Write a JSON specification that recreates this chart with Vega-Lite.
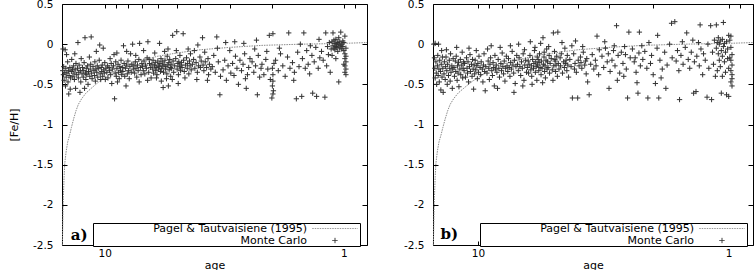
{
"$schema": "https://vega.github.io/schema/vega-lite/v6.json",
"background": "white",
"padding": {"left": 8, "top": -2, "right": 0, "bottom": 0},
"spacing": 33,
"config": {
  "font": "DejaVu Sans",
  "view": {"stroke": "black", "strokeWidth": 1},
  "axis": {"grid": false, "domain": false, "tickColor": "black", "tickWidth": 1, "labelColor": "black", "labelFont": "DejaVu Sans", "labelFontSize": 10.5, "titleFont": "DejaVu Sans", "titleFontSize": 11, "titleFontWeight": "normal", "titleColor": "black", "labelFlush": false, "labelOverlap": false}
},
"resolve": {"scale": {"x": "independent", "y": "independent", "shape": "independent"}, "legend": {"shape": "independent"}},
"datasets": {
"curve": [
{"age":15.05,"feh":-2.5},{"age":15.0,"feh":-2.3},{"age":14.95,"feh":-2.05},{"age":14.9,"feh":-1.9},{"age":14.8,"feh":-1.65},{"age":14.7,"feh":-1.48},{"age":14.5,"feh":-1.33},{"age":14.3,"feh":-1.22},{"age":14.0,"feh":-1.12},{"age":13.8,"feh":-1.04},{"age":13.5,"feh":-0.93},{"age":13.2,"feh":-0.83},{"age":12.9,"feh":-0.75},{"age":12.5,"feh":-0.68},{"age":12.0,"feh":-0.61},{"age":11.5,"feh":-0.56},{"age":11.0,"feh":-0.51},{"age":10.5,"feh":-0.46},{"age":10.0,"feh":-0.42},{"age":9.5,"feh":-0.37},{"age":9.0,"feh":-0.32},{"age":8.5,"feh":-0.28},{"age":8.0,"feh":-0.25},{"age":7.0,"feh":-0.2},{"age":6.0,"feh":-0.15},{"age":5.0,"feh":-0.11},{"age":4.0,"feh":-0.07},{"age":3.0,"feh":-0.04},{"age":2.2,"feh":-0.015},{"age":1.5,"feh":0.0},{"age":1.0,"feh":0.01},{"age":0.8,"feh":0.02}
],
"mcA": [
{"age":15.0,"feh":-0.33},{"age":14.9,"feh":-0.38},{"age":14.85,"feh":-0.28},{"age":14.8,"feh":-0.45},{"age":14.7,"feh":-0.35},{"age":14.6,"feh":-0.52},{"age":14.55,"feh":-0.3},{"age":14.5,"feh":-0.41},{"age":14.4,"feh":-0.36},{"age":14.3,"feh":-0.22},{"age":14.25,"feh":-0.47},{"age":14.2,"feh":-0.33},{"age":14.1,"feh":-0.39},{"age":14.0,"feh":-0.29},{"age":13.95,"feh":-0.56},{"age":13.9,"feh":-0.42},{"age":13.8,"feh":-0.34},{"age":13.75,"feh":-0.19},{"age":14.95,"feh":-0.06},{"age":14.45,"feh":-0.13},{"age":14.15,"feh":-0.62},{"age":14.65,"feh":-0.07},
{"age":13.65,"feh":-0.31},{"age":13.6,"feh":-0.4},{"age":13.5,"feh":-0.27},{"age":13.45,"feh":-0.36},{"age":13.4,"feh":-0.44},{"age":13.3,"feh":-0.32},{"age":13.25,"feh":-0.55},{"age":13.2,"feh":-0.24},{"age":13.1,"feh":-0.38},{"age":13.0,"feh":-0.3},{"age":12.95,"feh":0.02},{"age":12.9,"feh":-0.42},{"age":12.85,"feh":-0.35},{"age":12.8,"feh":-0.26},{"age":12.7,"feh":-0.6},{"age":12.65,"feh":-0.33},{"age":12.6,"feh":-0.47},{"age":12.55,"feh":-0.18},{"age":13.35,"feh":-0.12},
{"age":12.45,"feh":-0.37},{"age":12.4,"feh":-0.29},{"age":12.3,"feh":-0.41},{"age":12.25,"feh":-0.33},{"age":12.2,"feh":-0.23},{"age":12.1,"feh":0.08},{"age":12.05,"feh":-0.36},{"age":12.0,"feh":-0.44},{"age":11.95,"feh":-0.3},{"age":11.9,"feh":-0.38},{"age":11.8,"feh":-0.27},{"age":11.75,"feh":-0.5},{"age":11.7,"feh":-0.34},{"age":11.6,"feh":-0.16},{"age":11.55,"feh":-0.4},{"age":11.5,"feh":-0.31},{"age":11.45,"feh":-0.25},{"age":11.4,"feh":0.09},{"age":12.15,"feh":-0.55},
{"age":11.35,"feh":-0.36},{"age":11.3,"feh":-0.43},{"age":11.2,"feh":-0.28},{"age":11.1,"feh":-0.33},{"age":11.05,"feh":-0.39},{"age":11.0,"feh":-0.22},{"age":10.95,"feh":-0.46},{"age":10.9,"feh":-0.31},{"age":10.8,"feh":-0.35},{"age":10.75,"feh":-0.27},{"age":10.7,"feh":-0.41},{"age":10.6,"feh":-0.3},{"age":10.55,"feh":-0.2},{"age":10.5,"feh":-0.01},{"age":10.45,"feh":-0.37},{"age":10.4,"feh":-0.44},{"age":10.35,"feh":-0.29},{"age":10.3,"feh":-0.34},{"age":10.85,"feh":-0.09},
{"age":10.25,"feh":-0.26},{"age":10.2,"feh":-0.4},{"age":10.1,"feh":-0.32},{"age":10.05,"feh":-0.36},{"age":10.0,"feh":-0.23},{"age":9.95,"feh":-0.44},{"age":9.9,"feh":-0.3},{"age":9.8,"feh":-0.35},{"age":9.75,"feh":-0.27},{"age":9.7,"feh":-0.42},{"age":9.6,"feh":-0.29},{"age":9.55,"feh":-0.33},{"age":9.5,"feh":-0.18},{"age":9.45,"feh":-0.38},{"age":9.4,"feh":-0.24},{"age":9.35,"feh":-0.49},{"age":10.15,"feh":-0.05},
{"age":9.3,"feh":-0.31},{"age":9.2,"feh":-0.27},{"age":9.1,"feh":-0.68},{"age":9.05,"feh":-0.36},{"age":9.0,"feh":-0.22},{"age":8.95,"feh":-0.4},{"age":8.9,"feh":-0.3},{"age":8.8,"feh":-0.25},{"age":8.75,"feh":-0.35},{"age":8.7,"feh":-0.43},{"age":8.65,"feh":-0.28},{"age":8.6,"feh":-0.33},{"age":8.55,"feh":-0.2},{"age":8.5,"feh":-0.38},{"age":9.15,"feh":-0.13},{"age":8.85,"feh":-0.47},{"age":8.9,"feh":-0.11},
{"age":8.45,"feh":-0.29},{"age":8.4,"feh":-0.34},{"age":8.3,"feh":-0.24},{"age":8.25,"feh":-0.4},{"age":8.2,"feh":-0.3},{"age":8.1,"feh":-0.26},{"age":8.05,"feh":-0.37},{"age":8.0,"feh":-0.21},{"age":7.95,"feh":-0.33},{"age":7.9,"feh":-0.43},{"age":7.85,"feh":-0.28},{"age":7.8,"feh":-0.12},{"age":7.75,"feh":-0.35},{"age":7.7,"feh":-0.25},{"age":8.15,"feh":-0.52},{"age":8.35,"feh":-0.02},{"age":8.1,"feh":-0.09},
{"age":7.65,"feh":0.0},{"age":7.6,"feh":-0.31},{"age":7.55,"feh":-0.27},{"age":7.5,"feh":-0.36},{"age":7.45,"feh":-0.22},{"age":7.4,"feh":-0.3},{"age":7.35,"feh":-0.41},{"age":7.3,"feh":-0.26},{"age":7.25,"feh":-0.33},{"age":7.2,"feh":-0.19},{"age":7.15,"feh":0.01},{"age":7.1,"feh":-0.29},{"age":7.05,"feh":-0.38},{"age":7.0,"feh":-0.24},{"age":7.42,"feh":-0.14},{"age":7.18,"feh":-0.47},
{"age":6.95,"feh":-0.28},{"age":6.9,"feh":-0.33},{"age":6.85,"feh":-0.21},{"age":6.8,"feh":-0.37},{"age":6.75,"feh":-0.26},{"age":6.7,"feh":-0.3},{"age":6.65,"feh":-0.17},{"age":6.6,"feh":0.03},{"age":6.55,"feh":-0.35},{"age":6.5,"feh":-0.24},{"age":6.45,"feh":-0.29},{"age":6.4,"feh":-0.42},{"age":6.88,"feh":-0.08},{"age":6.62,"feh":-0.45},{"age":6.52,"feh":-0.19},
{"age":6.35,"feh":-0.25},{"age":6.3,"feh":-0.31},{"age":6.28,"feh":-0.2},{"age":6.25,"feh":-0.36},{"age":6.2,"feh":-0.27},{"age":6.15,"feh":-0.23},{"age":6.12,"feh":-0.33},{"age":6.1,"feh":-0.29},{"age":6.05,"feh":-0.38},{"age":6.0,"feh":-0.21},{"age":5.98,"feh":-0.26},{"age":5.95,"feh":-0.31},{"age":5.9,"feh":0.01},{"age":5.88,"feh":-0.24},{"age":5.85,"feh":-0.34},{"age":5.82,"feh":-0.18},{"age":5.8,"feh":-0.46},{"age":6.18,"feh":-0.11},{"age":6.08,"feh":-0.42},{"age":5.92,"feh":-0.28},
{"age":5.78,"feh":-0.3},{"age":5.75,"feh":-0.22},{"age":5.72,"feh":-0.27},{"age":5.7,"feh":-0.54},{"age":5.68,"feh":-0.35},{"age":5.65,"feh":-0.25},{"age":5.6,"feh":-0.2},{"age":5.58,"feh":-0.31},{"age":5.55,"feh":-0.28},{"age":5.5,"feh":-0.37},{"age":5.48,"feh":-0.15},{"age":5.45,"feh":-0.26},{"age":5.42,"feh":-0.52},{"age":5.4,"feh":-0.23},{"age":5.38,"feh":-0.32},{"age":5.35,"feh":-0.19},{"age":5.32,"feh":-0.29},{"age":5.3,"feh":-0.4},{"age":5.62,"feh":-0.09},{"age":5.52,"feh":-0.43},{"age":5.44,"feh":-0.06},
{"age":5.28,"feh":-0.25},{"age":5.25,"feh":-0.3},{"age":5.2,"feh":0.11},{"age":5.18,"feh":-0.21},{"age":5.15,"feh":-0.35},{"age":5.1,"feh":-0.27},{"age":5.05,"feh":-0.18},{"age":5.0,"feh":0.155},{"age":4.98,"feh":-0.31},{"age":4.95,"feh":-0.24},{"age":4.92,"feh":-0.38},{"age":4.9,"feh":-0.22},{"age":4.88,"feh":-0.28},{"age":4.85,"feh":-0.14},{"age":4.82,"feh":-0.33},{"age":4.8,"feh":-0.26},{"age":5.22,"feh":-0.44},{"age":5.02,"feh":-0.08},{"age":4.93,"feh":-0.49},
{"age":4.78,"feh":-0.23},{"age":4.75,"feh":-0.29},{"age":4.7,"feh":0.13},{"age":4.68,"feh":-0.2},{"age":4.65,"feh":-0.34},{"age":4.6,"feh":-0.26},{"age":4.55,"feh":-0.17},{"age":4.52,"feh":-0.3},{"age":4.5,"feh":-0.24},{"age":4.45,"feh":-0.37},{"age":4.42,"feh":-0.21},{"age":4.4,"feh":-0.27},{"age":4.38,"feh":-0.12},{"age":4.35,"feh":-0.32},{"age":4.62,"feh":-0.42},{"age":4.48,"feh":-0.06},
{"age":4.3,"feh":-0.25},{"age":4.25,"feh":-0.19},{"age":4.2,"feh":-0.3},{"age":4.15,"feh":-0.23},{"age":4.1,"feh":-0.35},{"age":4.05,"feh":-0.27},{"age":4.0,"feh":-0.16},{"age":3.98,"feh":-0.29},{"age":3.95,"feh":-0.21},{"age":4.22,"feh":-0.08},{"age":4.12,"feh":-0.44},{"age":3.9,"feh":0.08},{"age":4.08,"feh":-0.01},
{"age":3.88,"feh":-0.26},{"age":3.85,"feh":-0.33},{"age":3.8,"feh":-0.22},{"age":3.75,"feh":-0.29},{"age":3.7,"feh":-0.18},{"age":3.68,"feh":-0.38},{"age":3.65,"feh":-0.25},{"age":3.6,"feh":-0.31},{"age":3.82,"feh":-0.1},{"age":3.72,"feh":-0.45},
{"age":3.55,"feh":-0.28},{"age":3.5,"feh":-0.14},{"age":3.45,"feh":-0.35},{"age":3.4,"feh":0.09},{"age":3.35,"feh":-0.22},{"age":3.3,"feh":-0.63},{"age":3.28,"feh":-0.4},{"age":3.38,"feh":-0.05},
{"age":3.2,"feh":-0.32},{"age":3.15,"feh":-0.2},{"age":3.1,"feh":-0.45},{"age":3.05,"feh":-0.27},{"age":3.0,"feh":-0.08},{"age":2.97,"feh":-0.36},{"age":3.12,"feh":0.02},
{"age":2.92,"feh":-0.24},{"age":2.88,"feh":-0.39},{"age":2.84,"feh":-0.15},{"age":2.8,"feh":-0.3},{"age":2.76,"feh":-0.5},{"age":2.72,"feh":-0.2},{"age":2.86,"feh":0.03},
{"age":2.68,"feh":-0.33},{"age":2.64,"feh":-0.25},{"age":2.6,"feh":-0.12},{"age":2.56,"feh":-0.55},{"age":2.53,"feh":-0.38},{"age":2.5,"feh":-0.29},{"age":2.47,"feh":-0.18},{"age":2.62,"feh":0.01},{"age":2.58,"feh":-0.43},
{"age":2.42,"feh":-0.22},{"age":2.38,"feh":-0.35},{"age":2.34,"feh":-0.27},{"age":2.3,"feh":-0.63},{"age":2.28,"feh":-0.14},{"age":2.25,"feh":-0.41},{"age":2.22,"feh":-0.3},{"age":2.36,"feh":-0.06},{"age":2.32,"feh":0.05},
{"age":2.2,"feh":-0.25},{"age":2.16,"feh":-0.38},{"age":2.12,"feh":-0.19},{"age":2.08,"feh":-0.31},{"age":2.05,"feh":0.11},{"age":2.03,"feh":-0.44},{"age":2.0,"feh":-0.67},{"age":2.1,"feh":-0.09},
{"age":1.99,"feh":-0.3},{"age":1.98,"feh":-0.38},{"age":1.98,"feh":-0.46},{"age":1.99,"feh":-0.52},{"age":1.97,"feh":-0.58},{"age":1.98,"feh":-0.62},{"age":1.98,"feh":0.13},{"age":1.96,"feh":-0.24},
{"age":1.93,"feh":-0.2},{"age":1.88,"feh":-0.33},{"age":1.84,"feh":-0.12},{"age":1.8,"feh":-0.27},{"age":1.76,"feh":-0.4},{"age":1.72,"feh":-0.16},{"age":1.7,"feh":0.14},{"age":1.68,"feh":-0.3},{"age":1.86,"feh":-0.05},
{"age":1.64,"feh":-0.23},{"age":1.61,"feh":-0.35},{"age":1.58,"feh":-0.68},{"age":1.56,"feh":-0.1},{"age":1.54,"feh":-0.28},{"age":1.52,"feh":0.0},{"age":1.5,"feh":-0.65},{"age":1.62,"feh":-0.45},
{"age":1.49,"feh":-0.18},{"age":1.47,"feh":0.14},{"age":1.45,"feh":-0.3},{"age":1.43,"feh":-0.08},{"age":1.41,"feh":-0.25},{"age":1.39,"feh":-0.37},{"age":1.38,"feh":-0.02},
{"age":1.36,"feh":-0.14},{"age":1.35,"feh":-0.61},{"age":1.33,"feh":-0.22},{"age":1.31,"feh":-0.04},{"age":1.3,"feh":-0.65},{"age":1.28,"feh":-0.3},{"age":1.27,"feh":0.06},{"age":1.26,"feh":-0.17},
{"age":1.24,"feh":-0.09},{"age":1.22,"feh":-0.2},{"age":1.2,"feh":-0.66},{"age":1.19,"feh":0.14},{"age":1.18,"feh":-0.27},{"age":1.17,"feh":-0.03},{"age":1.16,"feh":-0.13},{"age":1.15,"feh":0.02},{"age":1.14,"feh":-0.35},{"age":1.13,"feh":-0.06},
{"age":1.12,"feh":0.03},{"age":1.11,"feh":0.14},{"age":1.11,"feh":-0.02},{"age":1.1,"feh":-0.05},{"age":1.1,"feh":0.05},{"age":1.09,"feh":0.01},{"age":1.09,"feh":-0.07},{"age":1.08,"feh":-0.03},{"age":1.08,"feh":0.06},{"age":1.07,"feh":0.0},{"age":1.07,"feh":-0.04},{"age":1.06,"feh":-0.09},{"age":1.06,"feh":0.02},{"age":1.05,"feh":-0.01},{"age":1.05,"feh":0.08},{"age":1.04,"feh":-0.05},{"age":1.04,"feh":0.03},{"age":1.03,"feh":-0.02},{"age":1.03,"feh":0.15},{"age":1.02,"feh":0.0},{"age":1.02,"feh":-0.06},{"age":1.01,"feh":0.04},{"age":1.01,"feh":-0.03},{"age":1.0,"feh":-0.08},{"age":1.0,"feh":0.02},{"age":1.05,"feh":-0.47},{"age":1.12,"feh":-0.14},{"age":1.08,"feh":-0.18},
{"age":0.99,"feh":-0.12},{"age":0.99,"feh":-0.18},{"age":0.98,"feh":-0.22},{"age":0.99,"feh":-0.27},{"age":0.98,"feh":-0.31},{"age":0.99,"feh":-0.35},{"age":0.98,"feh":-0.15},{"age":0.98,"feh":-0.05},{"age":0.99,"feh":0.1},{"age":0.98,"feh":-0.38},{"age":1.0,"feh":-0.25}
],
"mcB": [
{"age":15.0,"feh":0.0},{"age":14.8,"feh":0.01},{"age":14.9,"feh":-0.17},{"age":14.85,"feh":-0.3},{"age":14.8,"feh":-0.42},{"age":14.7,"feh":-0.22},{"age":14.65,"feh":-0.36},{"age":14.6,"feh":-0.5},{"age":14.5,"feh":-0.27},{"age":14.45,"feh":-0.14},{"age":14.4,"feh":-0.39},{"age":14.3,"feh":-0.31},{"age":14.25,"feh":-0.47},{"age":14.2,"feh":-0.2},{"age":14.1,"feh":-0.34},{"age":14.05,"feh":-0.57},{"age":14.0,"feh":-0.25},{"age":13.9,"feh":-0.41},{"age":13.85,"feh":-0.16},{"age":13.8,"feh":-0.3},{"age":13.75,"feh":-0.6},{"age":14.35,"feh":0.0},{"age":13.95,"feh":-0.08},
{"age":13.65,"feh":-0.37},{"age":13.6,"feh":-0.22},{"age":13.5,"feh":-0.44},{"age":13.45,"feh":-0.28},{"age":13.4,"feh":-0.16},{"age":13.3,"feh":-0.33},{"age":13.25,"feh":-0.5},{"age":13.2,"feh":-0.25},{"age":13.1,"feh":-0.39},{"age":13.0,"feh":-0.2},{"age":12.95,"feh":-0.3},{"age":12.9,"feh":-0.46},{"age":12.85,"feh":-0.12},{"age":12.8,"feh":-0.35},{"age":12.7,"feh":-0.27},{"age":12.65,"feh":-0.55},{"age":12.6,"feh":-0.31},{"age":12.55,"feh":-0.18},{"age":13.35,"feh":-0.07},
{"age":12.45,"feh":-0.29},{"age":12.4,"feh":-0.4},{"age":12.3,"feh":-0.21},{"age":12.25,"feh":-0.34},{"age":12.2,"feh":-0.15},{"age":12.1,"feh":-0.45},{"age":12.05,"feh":-0.27},{"age":12.0,"feh":-0.36},{"age":11.95,"feh":-0.23},{"age":11.9,"feh":-0.53},{"age":11.8,"feh":-0.31},{"age":11.75,"feh":-0.19},{"age":11.7,"feh":-0.38},{"age":11.6,"feh":-0.26},{"age":11.55,"feh":-0.1},{"age":11.5,"feh":-0.42},{"age":11.45,"feh":-0.3},{"age":11.4,"feh":-0.22},{"age":12.15,"feh":-0.04},
{"age":11.35,"feh":-0.33},{"age":11.3,"feh":-0.24},{"age":11.2,"feh":-0.41},{"age":11.1,"feh":-0.17},{"age":11.05,"feh":-0.3},{"age":11.0,"feh":-0.36},{"age":10.95,"feh":-0.22},{"age":10.9,"feh":-0.47},{"age":10.8,"feh":-0.28},{"age":10.75,"feh":-0.13},{"age":10.7,"feh":-0.34},{"age":10.6,"feh":-0.25},{"age":10.55,"feh":-0.4},{"age":10.5,"feh":-0.19},{"age":10.45,"feh":-0.31},{"age":10.4,"feh":-0.56},{"age":10.35,"feh":-0.26},{"age":10.3,"feh":-0.37},{"age":10.85,"feh":-0.05},
{"age":10.25,"feh":-0.2},{"age":10.2,"feh":-0.32},{"age":10.1,"feh":-0.27},{"age":10.05,"feh":-0.43},{"age":10.0,"feh":-0.24},{"age":9.95,"feh":-0.35},{"age":9.9,"feh":-0.15},{"age":9.8,"feh":-0.29},{"age":9.75,"feh":-0.38},{"age":9.7,"feh":-0.22},{"age":9.6,"feh":-0.31},{"age":9.55,"feh":-0.47},{"age":9.5,"feh":-0.26},{"age":9.45,"feh":-0.12},{"age":9.4,"feh":-0.34},{"age":9.35,"feh":-0.58},{"age":10.15,"feh":-0.08},
{"age":9.3,"feh":-0.28},{"age":9.2,"feh":-0.36},{"age":9.1,"feh":-0.21},{"age":9.05,"feh":-0.3},{"age":9.0,"feh":-0.44},{"age":8.95,"feh":-0.25},{"age":8.9,"feh":-0.17},{"age":8.8,"feh":-0.33},{"age":8.75,"feh":-0.39},{"age":8.7,"feh":-0.23},{"age":8.65,"feh":-0.29},{"age":8.6,"feh":-0.52},{"age":8.55,"feh":-0.14},{"age":8.5,"feh":-0.31},{"age":9.15,"feh":-0.06},{"age":8.85,"feh":-0.02},
{"age":8.45,"feh":-0.26},{"age":8.4,"feh":-0.35},{"age":8.3,"feh":-0.19},{"age":8.25,"feh":-0.3},{"age":8.2,"feh":-0.41},{"age":8.1,"feh":-0.24},{"age":8.05,"feh":-0.33},{"age":8.0,"feh":-0.11},{"age":7.95,"feh":-0.28},{"age":7.9,"feh":-0.37},{"age":7.85,"feh":-0.21},{"age":7.8,"feh":-0.46},{"age":7.75,"feh":-0.3},{"age":7.7,"feh":-0.15},{"age":8.15,"feh":-0.04},{"age":8.35,"feh":-0.55},
{"age":7.65,"feh":-0.27},{"age":7.6,"feh":-0.34},{"age":7.55,"feh":-0.18},{"age":7.5,"feh":-0.29},{"age":7.45,"feh":-0.4},{"age":7.4,"feh":-0.23},{"age":7.35,"feh":-0.31},{"age":7.3,"feh":-0.09},{"age":7.25,"feh":-0.26},{"age":7.2,"feh":-0.36},{"age":7.15,"feh":-0.2},{"age":7.1,"feh":-0.49},{"age":7.05,"feh":-0.28},{"age":7.0,"feh":-0.14},{"age":7.42,"feh":-0.02},{"age":7.18,"feh":-0.6},
{"age":6.95,"feh":-0.25},{"age":6.9,"feh":-0.33},{"age":6.85,"feh":-0.17},{"age":6.8,"feh":-0.28},{"age":6.75,"feh":-0.39},{"age":6.7,"feh":-0.22},{"age":6.65,"feh":-0.3},{"age":6.6,"feh":-0.12},{"age":6.55,"feh":-0.45},{"age":6.5,"feh":-0.26},{"age":6.45,"feh":-0.2},{"age":6.4,"feh":-0.35},{"age":6.88,"feh":0.0},{"age":6.62,"feh":-0.52},{"age":6.52,"feh":-0.07},
{"age":6.35,"feh":-0.29},{"age":6.3,"feh":-0.21},{"age":6.28,"feh":-0.36},{"age":6.25,"feh":-0.25},{"age":6.2,"feh":-0.14},{"age":6.15,"feh":-0.32},{"age":6.12,"feh":-0.27},{"age":6.1,"feh":-0.4},{"age":6.05,"feh":-0.19},{"age":6.0,"feh":-0.3},{"age":5.98,"feh":-0.24},{"age":5.95,"feh":-0.08},{"age":5.9,"feh":-0.35},{"age":5.88,"feh":-0.22},{"age":5.85,"feh":-0.28},{"age":5.82,"feh":-0.45},{"age":5.8,"feh":-0.16},{"age":6.18,"feh":0.03},{"age":6.08,"feh":-0.5},{"age":5.92,"feh":-0.04},
{"age":5.78,"feh":-0.26},{"age":5.75,"feh":-0.19},{"age":5.72,"feh":-0.33},{"age":5.7,"feh":-0.23},{"age":5.68,"feh":-0.12},{"age":5.65,"feh":-0.29},{"age":5.6,"feh":-0.38},{"age":5.58,"feh":-0.21},{"age":5.55,"feh":-0.3},{"age":5.5,"feh":0.08},{"age":5.48,"feh":-0.25},{"age":5.45,"feh":-0.16},{"age":5.42,"feh":-0.34},{"age":5.4,"feh":-0.27},{"age":5.38,"feh":-0.42},{"age":5.35,"feh":-0.2},{"age":5.32,"feh":-0.06},{"age":5.3,"feh":-0.31},{"age":5.62,"feh":0.01},{"age":5.52,"feh":-0.48},{"age":5.44,"feh":-0.1},
{"age":5.28,"feh":-0.22},{"age":5.25,"feh":-0.29},{"age":5.2,"feh":-0.14},{"age":5.18,"feh":-0.36},{"age":5.15,"feh":-0.24},{"age":5.1,"feh":-0.18},{"age":5.05,"feh":-0.32},{"age":5.0,"feh":0.14},{"age":4.98,"feh":-0.27},{"age":4.95,"feh":-0.09},{"age":4.92,"feh":-0.21},{"age":4.9,"feh":-0.34},{"age":4.88,"feh":-0.26},{"age":4.85,"feh":-0.15},{"age":4.82,"feh":-0.4},{"age":4.8,"feh":0.15},{"age":5.22,"feh":-0.03},{"age":5.02,"feh":-0.45},{"age":4.93,"feh":-0.19},
{"age":4.78,"feh":-0.24},{"age":4.75,"feh":-0.31},{"age":4.7,"feh":-0.17},{"age":4.68,"feh":-0.27},{"age":4.65,"feh":-0.12},{"age":4.6,"feh":-0.36},{"age":4.55,"feh":-0.22},{"age":4.52,"feh":-0.29},{"age":4.5,"feh":-0.05},{"age":4.45,"feh":-0.2},{"age":4.42,"feh":-0.33},{"age":4.4,"feh":-0.14},{"age":4.38,"feh":-0.26},{"age":4.35,"feh":-0.41},{"age":4.62,"feh":0.02},{"age":4.48,"feh":-0.24},
{"age":4.3,"feh":-0.19},{"age":4.25,"feh":-0.28},{"age":4.2,"feh":-0.67},{"age":4.15,"feh":-0.12},{"age":4.1,"feh":-0.24},{"age":4.05,"feh":-0.35},{"age":4.0,"feh":-0.67},{"age":3.98,"feh":-0.2},{"age":3.95,"feh":-0.27},{"age":4.22,"feh":-0.02},{"age":4.12,"feh":-0.31},{"age":3.9,"feh":-0.16},{"age":4.08,"feh":0.04},
{"age":3.88,"feh":-0.23},{"age":3.85,"feh":-0.3},{"age":3.8,"feh":-0.1},{"age":3.75,"feh":-0.26},{"age":3.7,"feh":-0.37},{"age":3.68,"feh":-0.18},{"age":3.65,"feh":-0.47},{"age":3.6,"feh":-0.63},{"age":3.82,"feh":-0.03},{"age":3.72,"feh":-0.21},
{"age":3.55,"feh":-0.25},{"age":3.5,"feh":-0.13},{"age":3.45,"feh":-0.31},{"age":3.4,"feh":-0.2},{"age":3.35,"feh":0.1},{"age":3.3,"feh":-0.38},{"age":3.28,"feh":-0.07},{"age":3.38,"feh":-0.27},
{"age":3.2,"feh":-0.15},{"age":3.15,"feh":-0.29},{"age":3.1,"feh":-0.05},{"age":3.05,"feh":-0.22},{"age":3.0,"feh":-0.55},{"age":2.97,"feh":-0.34},{"age":3.12,"feh":0.03},{"age":3.02,"feh":-0.12},
{"age":2.92,"feh":-0.2},{"age":2.88,"feh":-0.08},{"age":2.84,"feh":-0.27},{"age":2.8,"feh":0.23},{"age":2.76,"feh":-0.14},{"age":2.72,"feh":-0.36},{"age":2.86,"feh":-0.02},{"age":2.78,"feh":-0.45},
{"age":2.68,"feh":-0.1},{"age":2.64,"feh":-0.24},{"age":2.6,"feh":-0.03},{"age":2.56,"feh":-0.31},{"age":2.53,"feh":-0.67},{"age":2.5,"feh":0.15},{"age":2.47,"feh":-0.17},{"age":2.62,"feh":-0.4},{"age":2.58,"feh":-0.13},
{"age":2.42,"feh":-0.06},{"age":2.38,"feh":-0.22},{"age":2.34,"feh":-0.35},{"age":2.3,"feh":-0.61},{"age":2.28,"feh":-0.11},{"age":2.27,"feh":0.15},{"age":2.25,"feh":-0.27},{"age":2.22,"feh":-0.02},{"age":2.36,"feh":-0.17},{"age":2.32,"feh":-0.48},
{"age":2.2,"feh":-0.19},{"age":2.16,"feh":-0.09},{"age":2.12,"feh":-0.3},{"age":2.1,"feh":-0.67},{"age":2.08,"feh":0.02},{"age":2.05,"feh":-0.24},{"age":2.03,"feh":-0.14},{"age":2.0,"feh":-0.38},
{"age":1.96,"feh":-0.49},{"age":1.93,"feh":-0.05},{"age":1.92,"feh":0.11},{"age":1.9,"feh":-0.67},{"age":1.88,"feh":-0.2},{"age":1.84,"feh":-0.31},{"age":1.8,"feh":-0.1},{"age":1.76,"feh":-0.26},{"age":1.72,"feh":0.0},{"age":1.69,"feh":0.26},{"age":1.68,"feh":-0.17},{"age":1.86,"feh":-0.42},{"age":1.78,"feh":-0.55},
{"age":1.64,"feh":0.28},{"age":1.62,"feh":-0.21},{"age":1.6,"feh":-0.08},{"age":1.58,"feh":-0.33},{"age":1.57,"feh":-0.69},{"age":1.55,"feh":-0.14},{"age":1.53,"feh":0.03},{"age":1.52,"feh":-0.25},
{"age":1.49,"feh":-0.04},{"age":1.47,"feh":0.14},{"age":1.45,"feh":-0.19},{"age":1.43,"feh":-0.3},{"age":1.41,"feh":-0.1},{"age":1.39,"feh":0.05},{"age":1.38,"feh":-0.61},{"age":1.37,"feh":-0.22},
{"age":1.35,"feh":-0.59},{"age":1.34,"feh":-0.15},{"age":1.32,"feh":0.02},{"age":1.31,"feh":-0.27},{"age":1.3,"feh":0.24},{"age":1.29,"feh":-0.06},{"age":1.27,"feh":-0.38},{"age":1.26,"feh":-0.12},
{"age":1.24,"feh":-0.2},{"age":1.22,"feh":-0.66},{"age":1.21,"feh":0.0},{"age":1.2,"feh":-0.3},{"age":1.18,"feh":0.23},{"age":1.17,"feh":-0.69},{"age":1.16,"feh":-0.1},{"age":1.15,"feh":-0.25},{"age":1.14,"feh":0.05},{"age":1.13,"feh":-0.4},
{"age":1.12,"feh":0.24},{"age":1.12,"feh":-0.05},{"age":1.11,"feh":0.02},{"age":1.1,"feh":-0.12},{"age":1.1,"feh":0.08},{"age":1.09,"feh":-0.2},{"age":1.09,"feh":0.0},{"age":1.08,"feh":-0.28},{"age":1.08,"feh":0.04},{"age":1.07,"feh":-0.61},{"age":1.07,"feh":-0.08},{"age":1.06,"feh":-0.15},{"age":1.06,"feh":0.06},{"age":1.05,"feh":0.27},{"age":1.05,"feh":-0.03},{"age":1.04,"feh":-0.22},{"age":1.04,"feh":0.01},{"age":1.03,"feh":-0.1},{"age":1.03,"feh":-0.35},{"age":1.02,"feh":-0.63},{"age":1.02,"feh":0.03},{"age":1.01,"feh":-0.06},{"age":1.01,"feh":-0.18},{"age":1.0,"feh":0.11},{"age":1.0,"feh":-0.65},{"age":1.0,"feh":-0.3},{"age":1.06,"feh":-0.4},{"age":1.11,"feh":-0.33},
{"age":0.99,"feh":0.05},{"age":0.98,"feh":0.1},{"age":0.98,"feh":-0.04},{"age":0.97,"feh":-0.13},{"age":0.98,"feh":-0.2},{"age":0.97,"feh":-0.26},{"age":0.98,"feh":-0.33},{"age":0.97,"feh":-0.38},{"age":0.97,"feh":-0.43},{"age":0.98,"feh":-0.47},{"age":0.97,"feh":-0.52},{"age":0.99,"feh":-0.17}
]
},
"hconcat": [
{
  "width": 305, "height": 241,
  "resolve": {"axis": {"x": "independent", "y": "independent"}},
  "layer": [
    {
      "data": {"name": "curve"},
      "mark": {"type": "line", "color": "#8a8a8a", "strokeWidth": 1, "strokeDash": [1.5, 1]},
      "encoding": {
        "x": {"field": "age", "type": "quantitative", "scale": {"type": "log", "domain": [0.8, 15.1], "reverse": true, "nice": false}, "axis": {"orient": "bottom", "values": [0.9,1,2,3,4,5,6,7,8,9,10], "labelExpr": "datum.value == 10 ? '10' : (datum.value == 1 ? '1' : '')", "tickSize": -4, "labelPadding": 7, "title": "age", "titlePadding": 1}},
        "y": {"field": "feh", "type": "quantitative", "scale": {"domain": [-2.5, 0.5], "nice": false, "zero": false}, "axis": {"orient": "left", "values": [-2.5,-2,-1.5,-1,-0.5,0,0.5], "labelExpr": "'' + datum.value", "tickSize": -5, "labelPadding": 14, "title": "[Fe/H]", "titlePadding": 13}}
      }
    },
    {
      "data": {"name": "mcA"},
      "mark": {"type": "point", "filled": false, "size": 28, "color": "#333", "strokeWidth": 1, "opacity": 1},
      "encoding": {
        "x": {"field": "age", "type": "quantitative", "axis": {"orient": "top", "values": [0.9,1,2,3,4,5,6,7,8,9,10], "labels": false, "tickSize": -4, "title": null}},
        "y": {"field": "feh", "type": "quantitative", "axis": {"orient": "right", "values": [-2.5,-2,-1.5,-1,-0.5,0,0.5], "labels": false, "tickSize": -5, "title": null}},
        "shape": {"datum": "Monte Carlo", "type": "nominal",
          "scale": {"domain": ["Pagel & Tautvaisiene (1995)", "Monte Carlo"], "range": ["M-8.6,0H8.6", "M-1,0H1M0,-1V1"]},
          "legend": {"orient": "none", "legendX": 31, "legendY": 219, "title": null, "padding": 0, "strokeColor": "black", "fillColor": "white", "symbolSize": 28, "labelFont": "DejaVu Sans", "labelFontSize": 11, "labelColor": "black", "labelLimit": 400, "labelAlign": "right", "rowPadding": 0,
            "encoding": {
              "labels": {"x": {"value": 214}, "align": {"value": "right"}},
              "symbols": {"x": {"value": 242}, "strokeWidth": {"value": 1}, "fill": {"value": "transparent"},
                "stroke": {"condition": {"test": "datum.value === 'Monte Carlo'", "value": "#333"}, "value": "#999"},
                "strokeDash": {"condition": {"test": "datum.value === 'Monte Carlo'", "value": [1, 0]}, "value": [1.5, 1]}}
            }
          }
        }
      }
    },
    {
      "data": {"values": [{"label": "a)"}]},
      "mark": {"type": "text", "font": "DejaVu Serif", "fontSize": 15, "fontWeight": "bold", "color": "black", "align": "center", "baseline": "middle"},
      "encoding": {
        "x": {"datum": 12.8, "type": "quantitative", "axis": null},
        "y": {"datum": -2.38, "type": "quantitative", "axis": null},
        "text": {"field": "label"}
      }
    }
  ]
},
{
  "width": 320, "height": 241,
  "resolve": {"axis": {"x": "independent", "y": "independent"}},
  "layer": [
    {
      "data": {"name": "curve"},
      "mark": {"type": "line", "color": "#8a8a8a", "strokeWidth": 1, "strokeDash": [1.5, 1]},
      "encoding": {
        "x": {"field": "age", "type": "quantitative", "scale": {"type": "log", "domain": [0.8, 15.1], "reverse": true, "nice": false}, "axis": {"orient": "bottom", "values": [0.9,1,2,3,4,5,6,7,8,9,10], "labelExpr": "datum.value == 10 ? '10' : (datum.value == 1 ? '1' : '')", "tickSize": -4, "labelPadding": 7, "title": "age", "titlePadding": 1}},
        "y": {"field": "feh", "type": "quantitative", "scale": {"domain": [-2.5, 0.5], "nice": false, "zero": false}, "axis": {"orient": "left", "values": [-2.5,-2,-1.5,-1,-0.5,0,0.5], "labelExpr": "'' + datum.value", "tickSize": -5, "labelPadding": 14, "title": null}}
      }
    },
    {
      "data": {"name": "mcB"},
      "mark": {"type": "point", "filled": false, "size": 28, "color": "#333", "strokeWidth": 1, "opacity": 1},
      "encoding": {
        "x": {"field": "age", "type": "quantitative", "axis": {"orient": "top", "values": [0.9,1,2,3,4,5,6,7,8,9,10], "labels": false, "tickSize": -4, "title": null}},
        "y": {"field": "feh", "type": "quantitative", "axis": {"orient": "right", "values": [-2.5,-2,-1.5,-1,-0.5,0,0.5], "labels": false, "tickSize": -5, "title": null}},
        "shape": {"datum": "Monte Carlo", "type": "nominal",
          "scale": {"domain": ["Pagel & Tautvaisiene (1995)", "Monte Carlo"], "range": ["M-8.6,0H8.6", "M-1,0H1M0,-1V1"]},
          "legend": {"orient": "none", "legendX": 47, "legendY": 219, "title": null, "padding": 0, "strokeColor": "black", "fillColor": "white", "symbolSize": 28, "labelFont": "DejaVu Sans", "labelFontSize": 11, "labelColor": "black", "labelLimit": 400, "labelAlign": "right", "rowPadding": 0,
            "encoding": {
              "labels": {"x": {"value": 214}, "align": {"value": "right"}},
              "symbols": {"x": {"value": 242}, "strokeWidth": {"value": 1}, "fill": {"value": "transparent"},
                "stroke": {"condition": {"test": "datum.value === 'Monte Carlo'", "value": "#333"}, "value": "#999"},
                "strokeDash": {"condition": {"test": "datum.value === 'Monte Carlo'", "value": [1, 0]}, "value": [1.5, 1]}}
            }
          }
        }
      }
    },
    {
      "data": {"values": [{"label": "b)"}]},
      "mark": {"type": "text", "font": "DejaVu Serif", "fontSize": 15, "fontWeight": "bold", "color": "black", "align": "center", "baseline": "middle"},
      "encoding": {
        "x": {"datum": 13.0, "type": "quantitative", "axis": null},
        "y": {"datum": -2.36, "type": "quantitative", "axis": null},
        "text": {"field": "label"}
      }
    }
  ]
}
]
}
